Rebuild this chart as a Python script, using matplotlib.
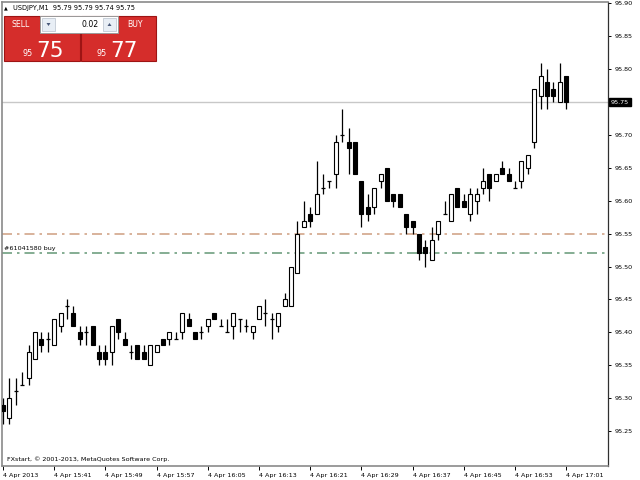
import matplotlib
matplotlib.use("Agg")
import matplotlib.pyplot as plt
from matplotlib.patches import Rectangle, Polygon

plt.rcParams['font.family'] = ['DejaVu Sans']

# ---- data (USDJPY, M1, 4 Apr 2013 15:33 .. 17:01) ----
opens = [95.29, 95.27, 95.31, 95.32, 95.33, 95.36, 95.39, 95.39, 95.38, 95.41,
         95.44, 95.43, 95.40, 95.40, 95.41, 95.37, 95.37, 95.37, 95.42, 95.39,
         95.37, 95.38, 95.37, 95.35, 95.37, 95.39, 95.39, 95.39, 95.40, 95.42,
         95.40, 95.40, 95.41, 95.43, 95.41, 95.40, 95.41, 95.42, 95.41, 95.40,
         95.42, 95.43, 95.42, 95.41, 95.44, 95.44, 95.49, 95.56, 95.58, 95.58,
         95.62, 95.63, 95.64, 95.70, 95.69, 95.69, 95.63, 95.59, 95.59, 95.63,
         95.65, 95.61, 95.61, 95.58, 95.57, 95.55, 95.53, 95.51, 95.55, 95.58,
         95.57, 95.62, 95.60, 95.58, 95.60, 95.62, 95.64, 95.63, 95.65, 95.64,
         95.62, 95.63, 95.65, 95.69, 95.76, 95.78, 95.77, 95.75, 95.79]
highs = [95.30, 95.33, 95.33, 95.34, 95.38, 95.40, 95.40, 95.40, 95.42, 95.43,
         95.45, 95.44, 95.41, 95.41, 95.41, 95.38, 95.38, 95.41, 95.42, 95.40,
         95.38, 95.38, 95.38, 95.38, 95.38, 95.39, 95.40, 95.40, 95.43, 95.43,
         95.40, 95.41, 95.42, 95.43, 95.42, 95.42, 95.43, 95.42, 95.42, 95.41,
         95.44, 95.45, 95.43, 95.43, 95.46, 95.50, 95.57, 95.60, 95.59, 95.66,
         95.64, 95.63, 95.70, 95.74, 95.71, 95.69, 95.63, 95.61, 95.62, 95.64,
         95.65, 95.61, 95.61, 95.58, 95.57, 95.55, 95.54, 95.56, 95.57, 95.60,
         95.61, 95.62, 95.61, 95.62, 95.62, 95.65, 95.64, 95.64, 95.66, 95.65,
         95.63, 95.66, 95.67, 95.77, 95.81, 95.80, 95.78, 95.81, 95.79]
lows = [95.26, 95.26, 95.29, 95.32, 95.32, 95.36, 95.37, 95.37, 95.38, 95.40,
        95.42, 95.41, 95.38, 95.38, 95.38, 95.35, 95.35, 95.35, 95.39, 95.38,
        95.36, 95.36, 95.36, 95.35, 95.37, 95.38, 95.38, 95.39, 95.39, 95.41,
        95.39, 95.39, 95.40, 95.42, 95.41, 95.40, 95.39, 95.40, 95.40, 95.39,
        95.42, 95.41, 95.39, 95.40, 95.44, 95.44, 95.49, 95.56, 95.56, 95.58,
        95.61, 95.62, 95.62, 95.69, 95.64, 95.64, 95.56, 95.57, 95.58, 95.62,
        95.60, 95.59, 95.59, 95.55, 95.55, 95.51, 95.50, 95.51, 95.54, 95.58,
        95.57, 95.59, 95.59, 95.57, 95.58, 95.61, 95.60, 95.63, 95.64, 95.63,
        95.62, 95.62, 95.64, 95.68, 95.74, 95.74, 95.75, 95.75, 95.74]
closes = [95.28, 95.30, 95.31, 95.32, 95.37, 95.40, 95.38, 95.39, 95.42, 95.43,
          95.44, 95.41, 95.39, 95.40, 95.38, 95.36, 95.36, 95.41, 95.40, 95.38,
          95.37, 95.36, 95.36, 95.38, 95.38, 95.38, 95.40, 95.39, 95.43, 95.41,
          95.39, 95.40, 95.42, 95.42, 95.41, 95.40, 95.43, 95.42, 95.41, 95.41,
          95.44, 95.43, 95.42, 95.43, 95.45, 95.50, 95.55, 95.57, 95.57, 95.61,
          95.62, 95.63, 95.69, 95.70, 95.68, 95.64, 95.58, 95.58, 95.62, 95.64,
          95.60, 95.60, 95.59, 95.56, 95.56, 95.52, 95.52, 95.54, 95.57, 95.58,
          95.61, 95.59, 95.59, 95.61, 95.61, 95.63, 95.62, 95.64, 95.64, 95.63,
          95.62, 95.66, 95.67, 95.77, 95.79, 95.76, 95.76, 95.78, 95.75]

tick_idx = [0, 8, 16, 24, 32, 40, 48, 56, 64, 72, 80, 88]
tick_labels = ["4 Apr 2013", "4 Apr 15:41", "4 Apr 15:49", "4 Apr 15:57",
               "4 Apr 16:05", "4 Apr 16:13", "4 Apr 16:21", "4 Apr 16:29",
               "4 Apr 16:37", "4 Apr 16:45", "4 Apr 16:53", "4 Apr 17:01"]
price_ticks = [95.25, 95.30, 95.35, 95.40, 95.45, 95.50, 95.55, 95.60,
               95.65, 95.70, 95.75, 95.80, 95.85, 95.90]
bid_price = 95.75
tp_level = 95.55
order_level = 95.52
order_label = "#61041580 buy"
header = "USDJPY,M1  95.79 95.79 95.74 95.75"

W, H = 640, 480
fig = plt.figure(figsize=(6.4, 4.8), dpi=100)
fig.patch.set_facecolor('white')
ax = fig.add_axes([2 / W, 1 - 466 / H, 606 / W, 464 / H])
ax.set_facecolor('white')

px_per_bar = 6.4
ax.set_xlim((2 - 3) / px_per_bar, (608 - 3) / px_per_bar)
ppx = 0.05 / 32.88
ax.set_ylim(95.90 - (466 - 3.5) * ppx, 95.90 - (2 - 3.5) * ppx)

# horizontal lines
ax.axhline(bid_price, color='#c8c8c8', lw=1.0, zorder=1)
ax.axhline(tp_level, color='#d2a58a', lw=1.2, ls=(0, (6, 3, 1.5, 3)), zorder=1)
ax.axhline(order_level, color='#6f9f80', lw=1.2, ls=(0, (6, 3, 1.5, 3)), zorder=1)
ax.text(3 / px_per_bar - 0.3, order_level + 0.004, order_label, fontsize=4.6,
        color='black', ha='left', va='bottom')

bw = 0.62
for i, (o, h, l, c) in enumerate(zip(opens, highs, lows, closes)):
    ax.vlines(i, l, h, color='black', lw=0.9, zorder=2)
    if abs(c - o) < 1e-9:
        ax.hlines(o, i - bw / 2, i + bw / 2, color='black', lw=0.9, zorder=3)
    else:
        fc = 'white' if c > o else 'black'
        ax.add_patch(Rectangle((i - bw / 2, min(o, c)), bw, abs(c - o),
                               facecolor=fc, edgecolor='black', lw=0.8, zorder=3))

# axes styling
for s in ['left', 'top', 'bottom']:
    ax.spines[s].set_color('#8a8a8a')
    ax.spines[s].set_linewidth(1.2)
ax.spines['right'].set_color('#303030')
ax.spines['right'].set_linewidth(0.9)

ax.yaxis.tick_right()
ax.set_yticks(price_ticks)
ax.set_yticklabels(["" if abs(p - bid_price) < 1e-9 else f"{p:.2f}" for p in price_ticks])
ax.tick_params(axis='y', direction='out', length=2.5, width=0.7, pad=2,
               labelsize=4.6, colors='black')
ax.set_xticks(tick_idx)
ax.set_xticklabels(tick_labels, ha='left')
ax.tick_params(axis='x', direction='out', length=3, width=0.7, pad=2,
               labelsize=4.6, colors='black')

# price label on right axis
ax.text(1.005, bid_price, f"{bid_price:.2f}", transform=ax.get_yaxis_transform(),
        fontsize=4.6, color='white', ha='left', va='center',
        bbox=dict(boxstyle='square,pad=0.25', fc='black', ec='black'), zorder=5,
        clip_on=False)

ax.text(5 / 606, 1 - (459 - 2) / 464, "FXstart, \u00a9 2001-2013, MetaQuotes Software Corp.",
        transform=ax.transAxes, fontsize=4.6, ha='left', va='center', color='black')

# ---- header and one-click trading panel (figure pixel coords) ----
def fx(x):
    return x / W

def fy(y):
    return 1 - y / H

fig.text(fx(4), fy(8), "\u25b2", fontsize=3.5, ha='left', va='center')
fig.text(fx(13), fy(8), header, fontsize=4.8, ha='left', va='center')

red = '#d52d2b'
dark = '#9e1414'
fig.patches.append(Rectangle((fx(4), fy(61)), fx(76), 45 / H, transform=fig.transFigure,
                             fc=red, ec=dark, lw=0.8))
fig.patches.append(Rectangle((fx(81), fy(61)), fx(75), 45 / H, transform=fig.transFigure,
                             fc=red, ec=dark, lw=0.8))
fig.patches.append(Rectangle((fx(40), fy(33)), fx(78), 17 / H, transform=fig.transFigure,
                             fc='white', ec='#9a9a9a', lw=0.7))
for bx in (42, 103):
    fig.patches.append(Rectangle((fx(bx), fy(31)), fx(13), 13 / H, transform=fig.transFigure,
                                 fc='#e8eef5', ec='#b8c0cc', lw=0.5))
fig.patches.append(Polygon([(fx(46.5), fy(23)), (fx(50.5), fy(23)), (fx(48.5), fy(26))],
                           closed=True, transform=fig.transFigure, fc='#4a5a7a', ec='none'))
fig.patches.append(Polygon([(fx(107.5), fy(26)), (fx(111.5), fy(26)), (fx(109.5), fy(23))],
                           closed=True, transform=fig.transFigure, fc='#4a5a7a', ec='none'))
fig.text(fx(99), fy(24.5), "0.02", fontsize=5.6, ha='right', va='center', color='black')
fig.text(fx(21), fy(24.5), "SELL", fontsize=5.6, ha='center', va='center', color='white')
fig.text(fx(135), fy(24.5), "BUY", fontsize=5.6, ha='center', va='center', color='white')
fig.text(fx(33), fy(56), "95", fontsize=5.8, ha='right', va='baseline', color='white')
fig.text(fx(36), fy(57), "75", fontsize=15.5, ha='left', va='baseline', color='white')
fig.text(fx(107), fy(56), "95", fontsize=5.8, ha='right', va='baseline', color='white')
fig.text(fx(110), fy(57), "77", fontsize=15.5, ha='left', va='baseline', color='white')

fig.savefig("out.png", dpi=100, facecolor='white')
